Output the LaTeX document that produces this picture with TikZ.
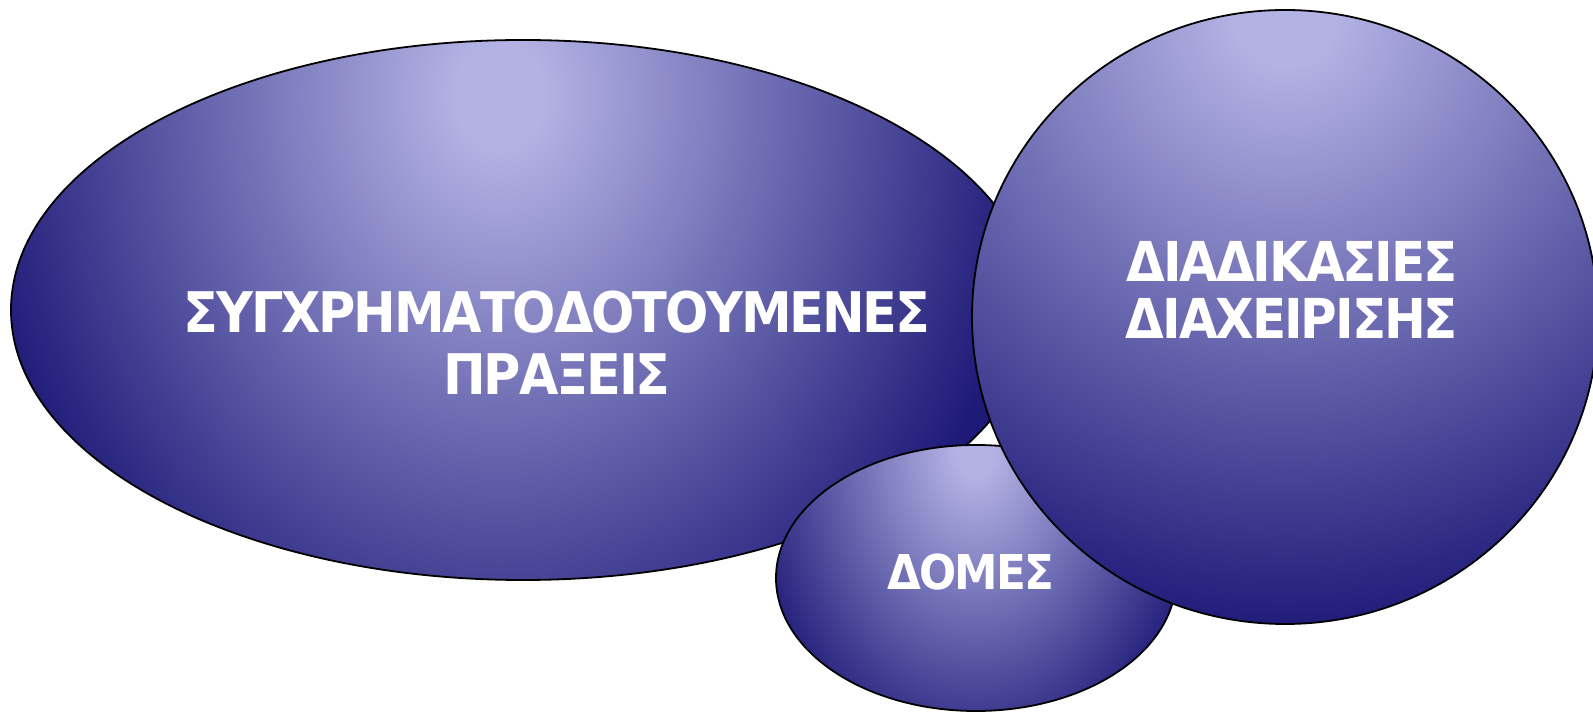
\documentclass[tikz,border=0pt]{standalone}
\usepackage{fontspec}
\newfontfamily\gfont[FakeStretch=0.91,LetterSpace=-3.8]{DejaVu Sans}
\definecolor{lite}{RGB}{178,178,228}
\definecolor{navy}{RGB}{30,26,120}
\pgfdeclareradialshading{glow}{\pgfpointorigin}{color(0bp)=(lite); color(1bp)=(lite); color(12.5bp)=(navy); color(50bp)=(navy)}
\tikzset{
  outline/.style={draw=black, line width=1.8pt},
  txt/.style={text=white, align=center, inner sep=0pt}
}
\begin{document}
\begin{tikzpicture}[x=1pt,y=1pt]
\useasboundingbox (0,0) rectangle (1593,712);
% big ellipse
\begin{scope}
  \clip (523,402) ellipse [x radius=512, y radius=270];
  \shade[shading=glow] (-580,-683) rectangle (1580,1917);
\end{scope}
\draw[outline] (523,402) ellipse [x radius=512, y radius=270];
\node[txt, font=\gfont\bfseries\fontsize{56}{62}\selectfont] (t1) at (557,369) {ΣΥΓΧΡΗΜΑΤΟΔΟΤΟΥΜΕΝΕΣ\\ΠΡΑΞΕΙΣ};
% small ellipse
\begin{scope}
  \clip (976,134) ellipse [x radius=200, y radius=133];
  \shade[shading=glow] (495,-398) rectangle (1455,922);
\end{scope}
\draw[outline] (976,134) ellipse [x radius=200, y radius=133];
\node[txt, font=\gfont\bfseries\fontsize{48}{52}\selectfont] (t3) at (971,140) {ΔΟΜΕΣ};
% circle
\begin{scope}
  \clip (1285,395) ellipse [x radius=313, y radius=307];
  \shade[shading=glow] (45,-543) rectangle (2525,1937);
\end{scope}
\draw[outline] (1285,395) ellipse [x radius=313, y radius=307];
\node[txt, font=\gfont\bfseries\fontsize{55}{57}\selectfont] (t2) at (1292,422.5) {ΔΙΑΔΙΚΑΣΙΕΣ\\ΔΙΑΧΕΙΡΙΣΗΣ};
\end{tikzpicture}
\end{document}
